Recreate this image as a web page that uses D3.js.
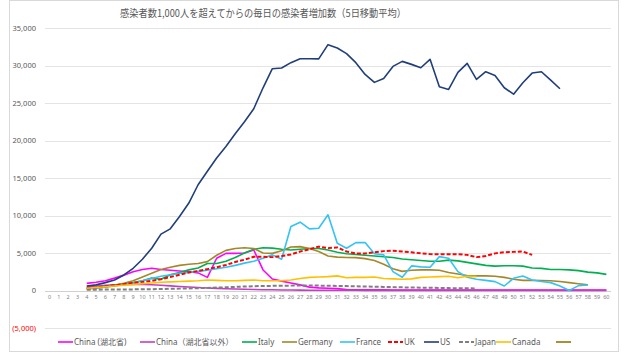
<!DOCTYPE html>
<html>
<head>
<meta charset="utf-8">
<script src="https://cdn.jsdelivr.net/npm/d3@7"></script>
<style>
  body { margin: 0; background: #fff; }
  svg { display: block; font-family: "Noto Sans", "Noto Sans CJK JP", sans-serif; }
</style>
</head>
<body>
<svg id="chart" width="628" height="353"></svg>
<script>
// days since 1,000 cases
const days = d3.range(0, 61);
const startDay = 4; // every series begins on day 4

const chinaHubei = [950, 1100, 1300, 1650, 2050, 2500, 2800, 2960, 2800, 2700, 2600, 2500, 2350, 1750, 4300, 4950, 4950, 5000, 5400, 2740, 1540, 1250, 1000, 750, 450, 350, 300, 250, 120, 100, 90, 80, 80, 70, 70, 60, 60, 60, 50, 50, 50, 50, 50, 50, 50, 50, 50, 50, 50, 50, 50, 50, 50, 50, 50, 50, 50];
const chinaOther = [500, 600, 700, 760, 800, 820, 800, 760, 700, 620, 540, 470, 400, 340, 280, 230, 190, 160, 130, 110, 90, 70, 60, 50, 40, 40, 30, 30, 30, 30, 20, 20, 20, 20, 20, 20, 20, 20, 20, 20, 20, 20, 20, 20, 20, 20, 20, 20, 20, 20, 20, 20, 20, 20, 20, 20, 20];
const italy = [300, 400, 550, 700, 850, 1050, 1300, 1650, 1500, 2100, 2400, 2750, 3000, 3600, 3600, 3900, 4400, 5000, 5500, 5700, 5650, 5500, 5400, 5500, 5600, 5600, 5400, 5100, 4900, 4800, 4700, 4600, 4500, 4400, 4200, 4100, 4000, 3900, 3900, 4050, 3950, 3750, 3550, 3350, 3250, 3300, 3300, 3250, 3000, 2950, 2800, 2800, 2750, 2650, 2450, 2350, 2150];
const germany = [250, 350, 500, 650, 950, 1300, 1800, 2300, 2800, 3100, 3350, 3500, 3600, 3850, 4700, 5350, 5600, 5700, 5600, 5000, 4950, 5300, 5800, 5850, 5600, 5200, 4600, 4450, 4400, 4380, 4250, 4000, 3500, 2900, 2550, 2700, 2750, 2750, 2700, 2400, 2200, 2000, 1950, 1950, 1900, 1750, 1500, 1350, 1350, 1330, 1300, 1200, 1050, 900, 750];
const france = [200, 300, 450, 600, 800, 1000, 1300, 1600, 1900, 2100, 2300, 2400, 2550, 2700, 2900, 3100, 3350, 3650, 3900, 4300, 4750, 4170, 8530, 9110, 8220, 8310, 10090, 6300, 5640, 6390, 6390, 4900, 4750, 2520, 1760, 3280, 3150, 3100, 4520, 4300, 2520, 1760, 1490, 1350, 1180, 600, 1630, 1940, 1400, 1200, 1050, 600, 0, 650, 735];
const uk = [300, 400, 550, 700, 850, 1000, 1150, 1300, 1500, 1800, 2100, 2400, 2600, 2850, 3100, 3400, 3800, 4100, 4500, 4500, 4450, 4600, 4800, 5200, 5500, 5850, 5650, 5750, 5200, 4950, 4950, 5100, 5250, 5300, 5200, 5100, 4950, 4850, 4830, 4830, 4830, 4750, 4450, 4600, 4950, 5100, 5150, 5200, 4750];
const us = [600, 750, 1050, 1400, 2070, 2960, 4170, 5640, 7510, 8220, 9870, 11660, 14100, 15900, 17670, 19200, 20900, 22500, 24230, 27030, 29570, 29660, 30380, 30910, 30900, 30880, 32780, 32330, 31580, 30380, 28810, 27750, 28280, 29880, 30550, 30150, 29700, 30820, 27170, 26810, 29080, 30280, 28140, 29170, 28680, 27030, 26180, 27700, 28990, 29170, 28060, 26900];
const japan = [100, 110, 120, 130, 140, 150, 160, 180, 200, 220, 250, 280, 310, 350, 390, 430, 480, 530, 570, 600, 620, 640, 650, 660, 660, 650, 630, 610, 590, 560, 530, 500, 480, 450, 420, 400, 380, 360, 340, 320, 300, 290, 280];
const canada = [300, 400, 500, 600, 700, 800, 900, 1000, 1100, 1150, 1200, 1250, 1300, 1400, 1350, 1300, 1300, 1350, 1400, 1300, 1300, 1300, 1400, 1600, 1750, 1800, 1850, 1950, 1700, 1750, 1750, 1800, 1600, 1550, 1500, 1550, 1750, 1800, 1850, 1900, 1700, 1900, 1850];
const unnamed = [];

const yTicks = [-5000, 0, 5000, 10000, 15000, 20000, 25000, 30000, 35000];

const series = [
  { name: "China (湖北省)", values: chinaHubei, color: "#ff00ff", dash: null },
  { name: "China（湖北省以外）", values: chinaOther, color: "#c43dc4", dash: null },
  { name: "Italy", values: italy, color: "#00b050", dash: null },
  { name: "Germany", values: germany, color: "#a5872a", dash: null },
  { name: "France", values: france, color: "#33c3f5", dash: null },
  { name: "UK", values: uk, color: "#ff0000", dash: "4,2" },
  { name: "US", values: us, color: "#203f7a", dash: null },
  { name: "Japan", values: japan, color: "#7f7f7f", dash: "4,2" },
  { name: "Canada", values: canada, color: "#ffc000", dash: null },
  { name: "", values: unnamed, color: "#997300", dash: null }
];

const svg = d3.select("#chart");

// chart frame
svg.append("rect")
  .attr("x", 9.5).attr("y", 0.5)
  .attr("width", 609).attr("height", 351)
  .attr("fill", "#fff").attr("stroke", "#d9d9d9");

svg.append("text")
  .attr("x", 263).attr("y", 17)
  .attr("text-anchor", "middle")
  .attr("font-size", 10.5)
  .attr("textLength", 286)
  .attr("lengthAdjust", "spacingAndGlyphs")
  .attr("fill", "#595959")
  .attr("font-family", "'Noto Sans CJK JP', sans-serif")
  .text("感染者数1,000人を超えてからの毎日の感染者増加数（5日移動平均）");

const x = d3.scaleBand().domain(days).range([45, 611]);
const xc = d => x(d) + x.bandwidth() / 2;
const y = d3.scaleLinear().domain([-5000, 35000]).range([328, 28]);

// gridlines
svg.append("g")
  .selectAll("line")
  .data(yTicks)
  .join("line")
  .attr("x1", 45).attr("x2", 611)
  .attr("y1", d => Math.round(y(d)) + 0.5)
  .attr("y2", d => Math.round(y(d)) + 0.5)
  .attr("stroke", d => d === 0 ? "#d0d0d0" : "#e4e4e4")
  .attr("stroke-width", 1);

// y labels
const fmt = d3.format(",");
svg.append("g")
  .selectAll("text")
  .data(yTicks)
  .join("text")
  .attr("x", 36)
  .attr("y", d => y(d))
  .attr("dy", "0.35em")
  .attr("text-anchor", "end")
  .attr("font-size", 7.5)
  .attr("fill", d => d < 0 ? "#ff0000" : "#595959")
  .text(d => d < 0 ? `(${fmt(-d)})` : fmt(d));

// x labels (category axis just under zero)
svg.append("g")
  .selectAll("text")
  .data(days)
  .join("text")
  .attr("x", d => xc(d))
  .attr("y", y(0) + 7)
  .attr("dy", "0.35em")
  .attr("text-anchor", "middle")
  .attr("font-size", 5.5)
  .attr("fill", "#7f7f7f")
  .text(d => d);

// lines
const line = d3.line()
  .x((d, i) => xc(i + startDay))
  .y(d => y(d));

svg.append("g")
  .selectAll("path")
  .data(series.filter(s => s.values.length))
  .join("path")
  .attr("fill", "none")
  .attr("stroke", s => s.color)
  .attr("stroke-width", s => s.dash ? 2 : 1.6)
  .attr("stroke-dasharray", s => s.dash)
  .attr("stroke-linejoin", "round")
  .attr("d", s => line(s.values));

// legend
const legendX = [58, 140, 242, 282, 340, 388, 424, 459, 496, 556];
const lg = svg.append("g")
  .selectAll("g")
  .data(series)
  .join("g")
  .attr("transform", (s, i) => `translate(${legendX[i]},342)`);

lg.append("line")
  .attr("x1", 0).attr("x2", 15)
  .attr("stroke", s => s.color)
  .attr("stroke-width", s => s.dash ? 2 : 1.6)
  .attr("stroke-dasharray", s => s.dash);

lg.append("text")
  .attr("x", 16)
  .attr("dy", "0.35em")
  .attr("font-size", 8)
  .attr("fill", "#595959")
  .text(s => s.name);
</script>
</body>
</html>
